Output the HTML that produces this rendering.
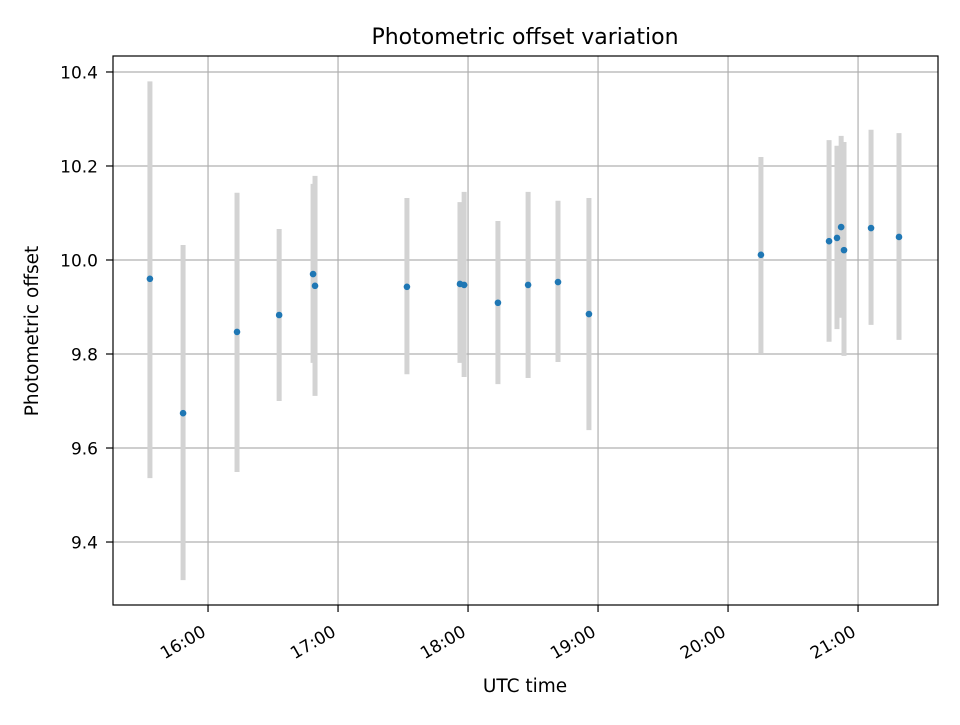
<!DOCTYPE html>
<html><head><meta charset="utf-8"><style>
body{margin:0;background:#fff;}
svg text{font-family:"DejaVu Sans","Liberation Sans",sans-serif;fill:#000;}
</style></head><body>
<svg id="chart" width="960" height="720" xmlns="http://www.w3.org/2000/svg">
<rect width="960" height="720" fill="#fff"/>
<g id="grid"></g>
<g id="bars"></g>
<g id="points"></g>
<rect x="113" y="56" width="825" height="549" fill="none" stroke="#000" stroke-width="1.2"/>
<g id="axes"></g>
<text x="525" y="44" text-anchor="middle" font-size="22">Photometric offset variation</text>
<text x="525" y="692" text-anchor="middle" font-size="18.5">UTC time</text>
<text transform="translate(38,331) rotate(-90)" text-anchor="middle" font-size="18.5">Photometric offset</text>
</svg>
<script>
const times=[15.553,15.808,16.223,16.547,16.808,16.823,17.530,17.938,17.970,18.230,18.462,18.692,18.930,20.253,20.777,20.838,20.870,20.892,21.100,21.315];
const values=[9.960,9.674,9.847,9.883,9.970,9.945,9.943,9.949,9.947,9.909,9.947,9.953,9.885,10.011,10.040,10.047,10.070,10.021,10.068,10.049];
const upper=[10.380,10.032,10.143,10.066,10.162,10.179,10.132,10.123,10.145,10.083,10.145,10.126,10.132,10.219,10.255,10.243,10.264,10.251,10.277,10.270];
const lower=[9.536,9.319,9.549,9.700,9.781,9.711,9.757,9.781,9.751,9.736,9.749,9.783,9.638,9.802,9.826,9.853,9.877,9.796,9.862,9.830];
const xTicks=[16,17,18,19,20,21];
const xTickLabels=["16:00","17:00","18:00","19:00","20:00","21:00"];
const yTicks=[9.4,9.6,9.8,10.0,10.2,10.4];
const yTickLabels=["9.4","9.6","9.8","10.0","10.2","10.4"];
const X0=113,X1=938,Y0=56,Y1=605;
const xmin=15.269,xmax=21.615,ymin=9.266,ymax=10.434;
const sx=v=>X0+(v-xmin)/(xmax-xmin)*(X1-X0);
const sy=v=>Y1-(v-ymin)/(ymax-ymin)*(Y1-Y0);
const NS="http://www.w3.org/2000/svg";
function mk(tag,attrs,parent){const e=document.createElementNS(NS,tag);for(const k in attrs)e.setAttribute(k,attrs[k]);document.getElementById(parent).appendChild(e);return e;}
xTicks.forEach((t,i)=>{
 const x=sx(t);
 const g=mk('line',{x1:x,x2:x,y1:Y0,y2:Y1,stroke:'#b0b0b0','stroke-width':1.2},'grid');
 
 
 const tk=mk('line',{x1:x,x2:x,y1:Y1,y2:Y1+7,stroke:'#000','stroke-width':1.2},'axes');
 
 
 const tx=mk('text',{transform:`translate(${x-1},${Y1+30}) rotate(-30)`,'text-anchor':'end','font-size':17},'axes');
 tx.textContent=xTickLabels[i];
 
 
});
yTicks.forEach((t,i)=>{
 const y=sy(t);
 const g=mk('line',{x1:X0,x2:X1,y1:y,y2:y,stroke:'#b0b0b0','stroke-width':1.2},'grid');
 
 
 const tk=mk('line',{x1:X0-7,x2:X0,y1:y,y2:y,stroke:'#000','stroke-width':1.2},'axes');
 
 
 const tx=mk('text',{x:X0-15,y:y+6.5,'text-anchor':'end','font-size':17},'axes');
 tx.textContent=yTickLabels[i];
 
 
});
times.forEach((t,i)=>{
 const x=sx(t);
 const b=mk('line',{x1:x,x2:x,y1:sy(upper[i]),y2:sy(lower[i]),stroke:'#d3d3d3','stroke-width':5},'bars');
 
 
 const p=mk('circle',{cx:x,cy:sy(values[i]),r:3.3,fill:'#1f77b4'},'points');
 
 
});
</script>
</body></html>
